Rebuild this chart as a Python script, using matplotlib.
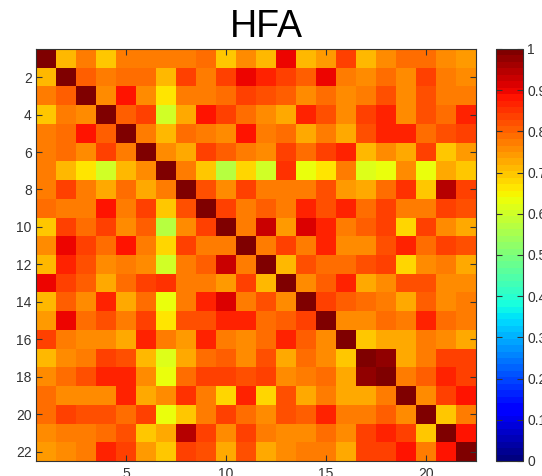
import numpy as np
import matplotlib
matplotlib.use('Agg')
import matplotlib.pyplot as plt

plt.rcParams['font.family'] = ['Liberation Sans', 'DejaVu Sans']

title = 'HFA'
n = 22
# upper triangle of the correlation matrix, row by row (values right of the diagonal)
upper = [
    [0.71, 0.77, 0.69, 0.77, 0.77, 0.77, 0.77, 0.79, 0.70, 0.76, 0.71, 0.90, 0.71, 0.74, 0.83, 0.71, 0.76, 0.79, 0.79, 0.76, 0.74],
    [0.80, 0.77, 0.79, 0.79, 0.71, 0.83, 0.78, 0.83, 0.90, 0.86, 0.83, 0.81, 0.90, 0.78, 0.76, 0.79, 0.75, 0.83, 0.77, 0.75],
    [0.76, 0.89, 0.76, 0.66, 0.77, 0.77, 0.79, 0.84, 0.82, 0.80, 0.76, 0.79, 0.76, 0.77, 0.82, 0.76, 0.82, 0.77, 0.78],
    [0.80, 0.84, 0.60, 0.73, 0.89, 0.84, 0.79, 0.76, 0.73, 0.87, 0.82, 0.76, 0.83, 0.86, 0.76, 0.82, 0.79, 0.86],
    [0.77, 0.71, 0.79, 0.78, 0.76, 0.89, 0.77, 0.79, 0.73, 0.77, 0.73, 0.82, 0.87, 0.87, 0.79, 0.82, 0.84],
    [0.75, 0.72, 0.84, 0.81, 0.77, 0.75, 0.84, 0.79, 0.83, 0.86, 0.71, 0.75, 0.73, 0.84, 0.70, 0.74],
    [0.77, 0.69, 0.57, 0.68, 0.60, 0.85, 0.64, 0.66, 0.78, 0.61, 0.63, 0.76, 0.63, 0.73, 0.70],
    [0.82, 0.75, 0.84, 0.77, 0.77, 0.77, 0.82, 0.74, 0.72, 0.79, 0.85, 0.69, 0.94, 0.83],
    [0.84, 0.78, 0.80, 0.78, 0.87, 0.82, 0.86, 0.79, 0.84, 0.77, 0.78, 0.83, 0.82],
    [0.78, 0.93, 0.74, 0.92, 0.86, 0.78, 0.81, 0.84, 0.68, 0.84, 0.75, 0.72],
    [0.78, 0.84, 0.77, 0.87, 0.75, 0.76, 0.82, 0.86, 0.79, 0.84, 0.82],
    [0.71, 0.82, 0.79, 0.79, 0.82, 0.84, 0.68, 0.76, 0.77, 0.73],
    [0.76, 0.80, 0.87, 0.72, 0.75, 0.82, 0.82, 0.76, 0.75],
    [0.84, 0.81, 0.79, 0.77, 0.73, 0.81, 0.76, 0.78],
    [0.76, 0.76, 0.79, 0.77, 0.86, 0.79, 0.77],
    [0.70, 0.73, 0.72, 0.77, 0.75, 0.73],
    [0.97, 0.72, 0.78, 0.83, 0.83],
    [0.77, 0.80, 0.86, 0.84],
    [0.76, 0.84, 0.89],
    [0.70, 0.77],
    [0.89],
    [],
]

mat = np.eye(n)
for i, row in enumerate(upper):
    for k, v in enumerate(row):
        j = i + 1 + k
        mat[i, j] = v
        mat[j, i] = v

fig = plt.figure(figsize=(5.42, 4.76), dpi=100)
ax = fig.add_axes([36 / 542, 15 / 476, 440 / 542, 412 / 476])
im = ax.imshow(mat, cmap=plt.get_cmap('jet', 64), vmin=0, vmax=1,
               extent=(0.5, n + 0.5, n + 0.5, 0.5), aspect='auto',
               interpolation='nearest')
ax.set_xticks([5, 10, 15, 20])
ax.set_yticks(np.arange(2, n + 1, 2))
ax.tick_params(direction='in', length=4, width=0.8, top=True, right=True,
               labelsize=10, colors='#333333', pad=3)
ax.tick_params(axis='x', pad=4.5)
for s in ax.spines.values():
    s.set_color('#333333')
    s.set_linewidth(0.8)
fig.text(266 / 542, 1 - 37 / 476, title, fontsize=27, ha='center', va='baseline')

cax = fig.add_axes([496 / 542, 15 / 476, 27 / 542, 412 / 476])
cb = fig.colorbar(im, cax=cax, ticks=np.arange(0, 1.01, 0.1))
cb.ax.set_yticklabels(['0', '0.1', '0.2', '0.3', '0.4', '0.5', '0.6', '0.7', '0.8', '0.9', '1'])
cb.ax.tick_params(direction='in', length=4, width=0.8, left=True, right=True,
                  labelsize=10, colors='#333333', pad=3)
cb.outline.set_edgecolor('#333333')
cb.outline.set_linewidth(0.8)

fig.savefig('out.png', dpi=100)
